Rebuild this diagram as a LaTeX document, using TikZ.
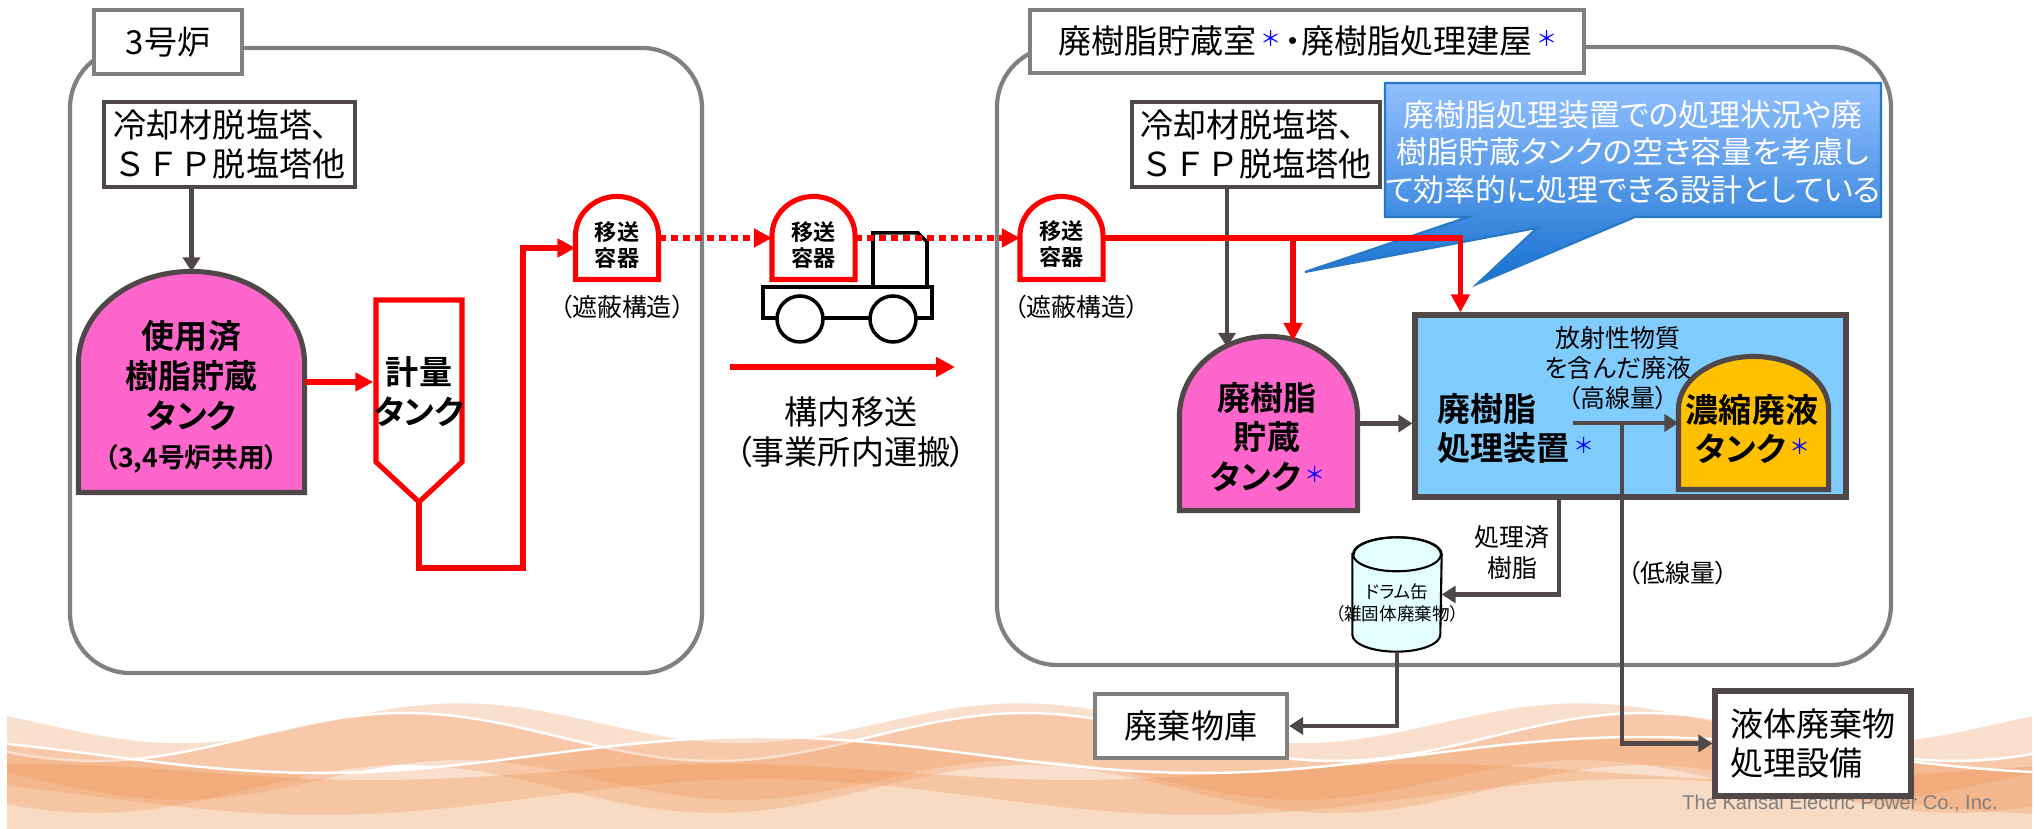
\documentclass[tikz,border=0pt]{standalone}
\usepackage{fontspec}
\setmainfont{Noto Sans CJK JP}[RawFeature=+palt,BoldFont={Noto Sans CJK JP Bold}]
\newfontfamily\kepcofont{Liberation Sans}
\usepackage{xcolor}
\usepackage{tikz}
\usetikzlibrary{arrows.meta}
\usetikzlibrary{positioning}

\definecolor{rahmengrau}{RGB}{128,128,128}
\definecolor{dunkel}{RGB}{80,72,72}
\definecolor{rot}{RGB}{255,0,0}
\definecolor{tankrosa}{RGB}{255,102,204}
\definecolor{tankgelb}{RGB}{255,192,0}
\definecolor{anlageblau}{RGB}{128,204,255}
\definecolor{fasscyan}{RGB}{228,255,255}
\definecolor{welle}{RGB}{240,150,90}
\definecolor{welleboden}{RGB}{249,218,194}
\definecolor{notizoben}{RGB}{146,192,255}
\definecolor{notizunten}{RGB}{22,112,208}
\definecolor{notizrand}{RGB}{40,120,200}
\definecolor{sternblau}{RGB}{0,0,255}

\newcommand\gross{\fontsize{9.4pt}{11.3pt}\selectfont}
\newcommand\mittel{\fontsize{8.8pt}{10.7pt}\selectfont}
\newcommand\klein{\fontsize{7.1pt}{8.6pt}\selectfont}
\newcommand\behaelterschrift{\fontsize{6.3pt}{7.4pt}\selectfont}
\newcommand\winzig{\fontsize{5pt}{6.5pt}\selectfont}
\newcommand\stern{\,{\mdseries\color{sternblau}\raisebox{.22em}{\fontsize{6pt}{6pt}\selectfont ＊}}}
\newcommand\sfp{{\addfontfeature{RawFeature=-palt}ＳＦＰ}}

% Kuppelform fuer Tanks und Behaelter
\makeatletter
\pgfkeys{/tikz/dome cap/.initial=.85}
\pgfdeclareshape{dome}{%
  \inheritsavedanchors[from=rectangle]%
  \inheritanchorborder[from=rectangle]%
  \inheritanchor[from=rectangle]{center}%
  \inheritanchor[from=rectangle]{north}%
  \inheritanchor[from=rectangle]{south}%
  \inheritanchor[from=rectangle]{east}%
  \inheritanchor[from=rectangle]{west}%
  \inheritanchor[from=rectangle]{north east}%
  \inheritanchor[from=rectangle]{north west}%
  \inheritanchor[from=rectangle]{south east}%
  \inheritanchor[from=rectangle]{south west}%
  \inheritanchor[from=rectangle]{base}%
  \inheritanchor[from=rectangle]{mid}%
  \backgroundpath{%
    \southwest \edef\dome@xa{\the\pgf@x}\edef\dome@ya{\the\pgf@y}%
    \northeast \edef\dome@xb{\the\pgf@x}\edef\dome@yb{\the\pgf@y}%
    \pgf@xc=\dome@xb \advance\pgf@xc by -\dome@xa \pgf@xc=.5\pgf@xc
    \pgf@yc=\pgfkeysvalueof{/tikz/dome cap}\pgf@xc
    \edef\dome@rx{\the\pgf@xc}\edef\dome@ry{\the\pgf@yc}%
    \pgf@y=\dome@yb \advance\pgf@y by -\pgf@yc
    \edef\dome@ys{\the\pgf@y}%
    \pgfpathmoveto{\pgfqpoint{\dome@xa}{\dome@ya}}%
    \pgfpathlineto{\pgfqpoint{\dome@xa}{\dome@ys}}%
    \pgfpatharc{180}{0}{\dome@rx and \dome@ry}%
    \pgfpathlineto{\pgfqpoint{\dome@xb}{\dome@ya}}%
    \pgfpathclose
  }%
}
\makeatother

\begin{document}
\begin{tikzpicture}[
  x=0.1mm, y=-0.1mm,
  font=\gross,
  >={Triangle[length=1.4mm,width=1.7mm]},
  Pfeil/.style={draw=dunkel, line width=1.15pt, ->}, % graue Leitungen
  RotPfeil/.style={draw=rot, line width=1.45pt, -{Triangle[length=1.8mm,width=1.8mm]}}, % Harztransport
  RotPunkt/.style={RotPfeil, dash pattern=on 0.7mm off 0.5mm},
  Bereich/.style={draw=rahmengrau, line width=1.2pt, rounded corners=6mm, inner sep=0pt},
  Titel/.style={draw=rahmengrau, line width=1.2pt, fill=white, inner sep=0pt},
  Kasten/.style={draw=dunkel, line width=1pt, fill=white, inner sep=0pt},
  Tank/.style={dome, draw=dunkel, line width=1.45pt, inner sep=0pt},
  Behaelter/.style={dome, draw=rot, line width=1.45pt, fill=white, inner sep=0pt,
    dome cap=.95, minimum width=7.8mm, minimum height=7.8mm},
  Fett/.style={font=\gross\bfseries, align=center, inner sep=0pt},
  BehaelterText/.style={Fett, font=\behaelterschrift\bfseries},
  Wagen/.style={draw=black, line width=1pt}
]
\useasboundingbox (0,0) rectangle (2035,829);

%Hintergrund Wellen
\fill[welleboden] plot[domain=7:2032,samples=160] (\x,{772+8*sin((\x-200)/700*360)})
  -- (2032,829) -- (7,829) -- cycle;
\foreach \wy/\wa/\wl/\wf/\wt in {722/20/560/40/58, 737/-24/620/250/52, 755/18/880/100/42}{
  \fill[welle, opacity=.3] plot[domain=7:2032,samples=160] (\x,{\wy+(\wa)*sin((\x-\wf)/\wl*360)})
    -- plot[domain=2032:7,samples=160] (\x,{\wy+\wt+(\wa)*sin((\x-\wf)/\wl*360)}) -- cycle;
  \draw[white, line width=.7pt] plot[domain=7:2032,samples=160] (\x,{\wy+(\wa)*sin((\x-\wf)/\wl*360)});
}

%Bereiche
\node[Bereich, minimum width=63.2mm, minimum height=62.5mm] (unit3) at (386,360.5) {};
\node[Bereich, minimum width=89.4mm, minimum height=61.8mm] (bau) at (1444,356) {};
\node[Titel, minimum width=14.8mm, minimum height=6.4mm] (unit3-titel) at (168,42) {3号炉};
\node[Titel, minimum width=55.4mm, minimum height=6.3mm] (bau-titel) at (1307,41.5)
  {廃樹脂貯蔵室\stern\,・廃樹脂処理建屋\stern};

%3号炉
\node[Kasten, minimum width=25.1mm, minimum height=8.5mm, align=left] (cool3) at (229.5,144.5)
  {冷却材脱塩塔、\\\sfp 脱塩塔他};
\node[Tank, fill=tankrosa, dome cap=.81, minimum width=22.1mm, minimum height=21.6mm] (used) at (191.5,382) {};
\node[Fett] (used-text) at (191.5,397)
  {使用済\\樹脂貯蔵\\タンク\\{\fontsize{7.6pt}{9pt}\selectfont（3,4号炉共用）}};
\draw[Pfeil] (cool3.south -| used.north) -- (used.north);

\draw[draw=rot, line width=1.45pt, fill=white]
  (376,462) -- (376,300) -- (462,300) -- (462,462) -- (419,502) -- cycle;
\coordinate (meter-tip) at (419,502);
\coordinate (lift) at (523,568);
\node[Fett, minimum width=8.6mm, minimum height=18.4mm] (meter) at (419,392) {計量\\タンク};
\draw[RotPfeil] (used.east) -- (used.east -| meter.west);

\node[Behaelter] (ctr1) at (617,238) {};
\node[BehaelterText] (ctr1-text) at (617,245) {移送\\容器};
\node[font=\klein, inner sep=0pt, below=1.5mm of ctr1, xshift=.5mm] (ctr1-label) {（遮蔽構造）};
\draw[RotPfeil] (meter-tip) |- (lift) |- ([yshift=-1mm]ctr1.west);

%Transport
\draw[Wagen] (763,287) rectangle (932,318);
\draw[Wagen] (873,287) -- (873,233) -- (918,233) -- (927,242) -- (927,287);
\draw[Wagen, fill=white] (800,319) circle[radius=2.3mm];
\draw[Wagen, fill=white] (893,319) circle[radius=2.3mm];
\node[Behaelter] (ctr2) at (813.5,238) {};
\node[BehaelterText] (ctr2-text) at (813.5,245) {移送\\容器};
\draw[draw=rot, line width=.65mm, -{Triangle[length=1.9mm,width=1.9mm]}] (730,367) -- (955,367);
\node[align=center, inner sep=0pt] (transfer) at (851,432.5) {構内移送\\（事業所内運搬）};

%Gebaeude
\node[Behaelter] (ctr3) at (1061.5,238) {};
\node[BehaelterText] (ctr3-text) at (1061.5,244) {移送\\容器};
\node[font=\klein, inner sep=0pt, below=1.5mm of ctr3, xshift=1.5mm] (ctr3-label) {（遮蔽構造）};
\draw[RotPunkt] (ctr1.east) -- (ctr2.west);
\draw[RotPunkt] (ctr2.east) -- (ctr3.west);

\node[Kasten, minimum width=24.8mm, minimum height=8.5mm, align=left] (coolr) at (1256,144.5)
  {冷却材脱塩塔、\\\sfp 脱塩塔他};

\draw[top color=notizoben, bottom color=notizunten, draw=notizrand, line width=.6pt]
  (1385,83) -- (1881,83) -- (1881,217) -- (1635,217) -- (1477,284) -- (1537,228)
  -- (1305,272) -- (1468,217) -- (1385,217) -- cycle;
\node[text=white, font=\mittel, align=center, inner sep=0pt] (notiz) at (1633,152)
  {廃樹脂処理装置での処理状況や廃\\樹脂貯蔵タンクの空き容量を考慮し\\て効率的に処理できる設計としている};

\node[Tank, fill=tankrosa, dome cap=.9, minimum width=17.3mm, minimum height=16.9mm] (wtank) at (1268.5,423.5) {};
\node[Fett] (wtank-text) at (1267,437) {廃樹脂\\貯蔵\\タンク\stern};
\coordinate (wtank-l) at (1227,347);
\coordinate (wtank-r) at (1293,341);
\draw[Pfeil] (coolr.south -| wtank-l) -- (wtank-l);

\node[draw=dunkel, line width=1.45pt, fill=anlageblau, minimum width=43.1mm, minimum height=18.2mm,
  inner sep=0pt] (proc) at (1630.5,406) {};
\node[Fett, align=left, anchor=west] (proc-text) at (1437,428.5) {廃樹脂\\処理装置\stern};
\node[font=\klein, align=center, inner sep=0pt] (hot) at (1618,368) {放射性物質\\を含んだ廃液\\（高線量）};
\node[Tank, fill=tankgelb, dome cap=.7, minimum width=14.5mm, minimum height=12.8mm] (ctank) at (1753.5,423) {};
\node[Fett] (ctank-text) at (1752,429) {濃縮廃液\\タンク\stern};
\coordinate (hot-out) at (1573,423);
\coordinate (j1) at (1622,423);

\draw[RotPfeil] (ctr3.east) -| ([xshift=4.8mm]proc.north west);
\draw[RotPfeil] (ctr3.east -| wtank-r) -- (wtank-r);
\draw[Pfeil] (wtank.east) -- (wtank.east -| proc.west);
\draw[Pfeil] (hot-out) -- (ctank.west);

%Fass
\node[minimum width=8.8mm, minimum height=11.3mm, inner sep=0pt] (drum) at (1397,594.5) {};
\draw[black, line width=.6pt, fill=fasscyan]
  ([yshift=-1.7mm]drum.north west) -- ([yshift=1.7mm]drum.south west)
  arc[start angle=180, end angle=360, x radius=4.4mm, y radius=1.7mm]
  -- ([yshift=-1.7mm]drum.north east)
  arc[start angle=0, end angle=180, x radius=4.4mm, y radius=1.7mm] -- cycle;
\draw[black, line width=.6pt] ([yshift=-1.7mm]drum.north) ellipse[x radius=4.4mm, y radius=1.7mm];
\node[font=\winzig, align=center, inner sep=0pt] (drum-text) at (1397,603) {ドラム缶\\（雑固体廃棄物）};
\node[font=\klein, align=center, inner sep=0pt] (done) at (1512,552.5) {処理済\\樹脂};
\node[font=\klein, inner sep=0pt] (low) at (1678,573) {（低線量）};

%Entsorgung
\node[font=\kepcofont\fontsize{5.7pt}{7pt}\selectfont, text=rahmengrau, anchor=base, inner sep=0pt]
  (kepco) at (1840,810) {The Kansai Electric Power Co., Inc.};
\node[Titel, minimum width=19.2mm, minimum height=6.4mm] (store) at (1191,726) {廃棄物庫};
\node[Kasten, line width=1.45pt, minimum width=19.6mm, minimum height=10.5mm, align=left]
  (liquid) at (1813,743.5) {液体廃棄物\\処理設備};

\draw[Pfeil] ([xshift=14.7mm]proc.south west) |- (drum.east);
\draw[Pfeil] (drum.south) |- (store.east);
\draw[Pfeil] (j1) |- (liquid.west);
\end{tikzpicture}
\end{document}
